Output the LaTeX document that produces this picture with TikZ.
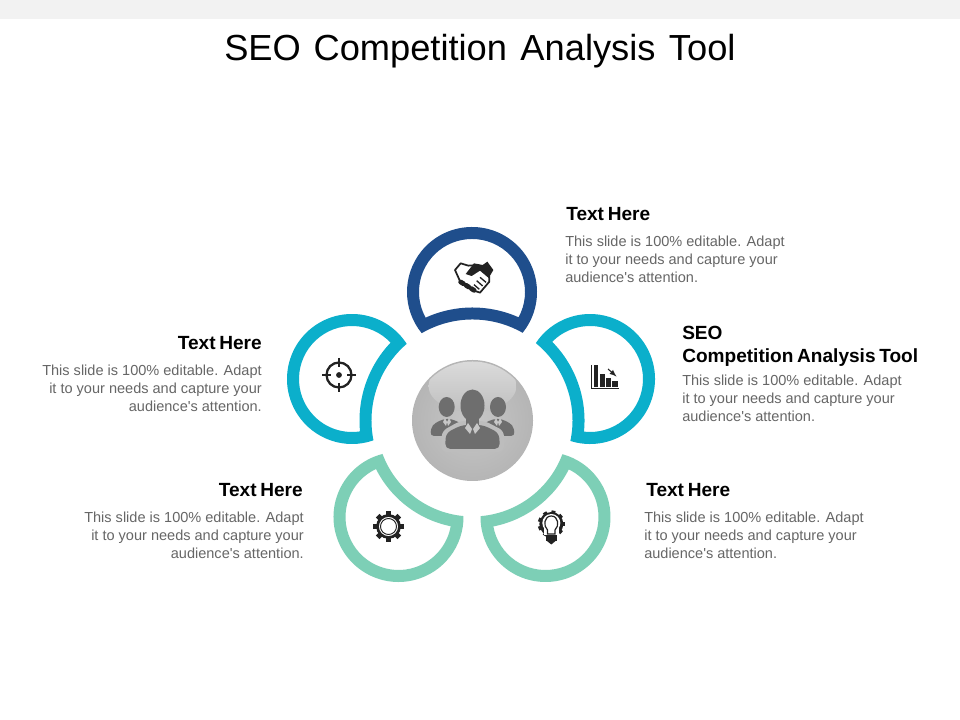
\documentclass[tikz,border=0pt]{standalone}
\usepackage{fontspec}
\setmainfont[Ligatures=TeXOff]{Liberation Sans}
\newfontfamily\headfont[WordSpace=0.7]{Liberation Sans Bold}
\definecolor{navy}{HTML}{1F4E8C}
\definecolor{teal}{HTML}{0BAFCB}
\definecolor{mint}{HTML}{7DCFB6}
\definecolor{bodygrey}{HTML}{666666}
\definecolor{peoplegrey}{HTML}{6E6E6E}
\definecolor{iconblack}{HTML}{222222}
\newcommand{\petal}[5]{%
  \coordinate (#1) at (#3,#4);
  \pgfmathsetmacro\pdx{(#3-472.5)/100}
  \pgfmathsetmacro\pdy{(#4-299.5)/100}
  \pgfmathsetmacro\pang{atan2(\pdy,\pdx)}
  \pgfmathsetmacro\pdist{sqrt(\pdx*\pdx+\pdy*\pdy)}
  \pgfmathsetmacro\rout{#5/100}
  \pgfmathsetmacro\rin{(#5+12)/100}
  \pgfmathsetmacro\aout{acos((\pdist*\pdist+0.65*0.65-\rout*\rout)/(2*\pdist*0.65))}
  \pgfmathsetmacro\bout{acos((\pdist*\pdist+\rout*\rout-0.65*0.65)/(2*\pdist*\rout))}
  \pgfmathsetmacro\ain{acos((\pdist*\pdist+0.53*0.53-\rin*\rin)/(2*\pdist*0.53))}
  \pgfmathsetmacro\bin{acos((\pdist*\pdist+\rin*\rin-0.53*0.53)/(2*\pdist*\rin))}
  \fill[#2,even odd rule]
    ([shift={(\pang+180+\aout:65)}]#1) arc[start angle=\pang+180+\aout,end angle=\pang+540-\aout,radius=65]
      arc[start angle=\pang+\bout,end angle=\pang-\bout,radius=#5] -- cycle
    ([shift={(\pang+180+\ain:53)}]#1) arc[start angle=\pang+180+\ain,end angle=\pang+540-\ain,radius=53]
      arc[start angle=\pang+\bin,end angle=\pang-\bin,radius=#5+12] -- cycle;
}
\newcommand{\blurb}{This slide is 100\% editable. Adapt\\it to your needs and capture your\\audience's attention.}
\begin{document}
\begin{tikzpicture}[x=0.75pt,y=0.75pt,
    headtext/.style={inner sep=0pt,font=\fontsize{14.3}{17.5}\selectfont\headfont,text=black},
    bodytext/.style={inner sep=0pt,font=\fontsize{10.9}{13.3}\selectfont,text=bodygrey},
    iconline/.style={draw=iconblack,line width=1.1pt},
    iconfill/.style={fill=iconblack}]
  \fill[white] (0,0) rectangle (960,720);
  \path[use as bounding box] (0,0) rectangle (960,720);
  \fill[black!5] (0,701) rectangle (960,720);
  \node[anchor=base west,inner sep=0pt,font=\fontsize{27.2}{34}\selectfont] (title) at (224,659) {SEO\hspace{2pt} Competition\hspace{2.5pt} Analysis\hspace{2.5pt} Tool};
  % petals
  \coordinate (hub) at (472.5,299.5);
  \petal{top}{navy}{472}{428}{101}
  \petal{right}{teal}{590}{341}{100}
  \petal{left}{teal}{352}{341}{101}
  \petal{lowleft}{mint}{398.5}{203}{96}
  \petal{lowright}{mint}{545.5}{203}{96}
  % hub
  \shade[inner color=black!22,outer color=black!29] (hub) circle[radius=60.5];
  \begin{scope}
    \clip (hub) circle[radius=59];
    \shade[top color=black!14,bottom color=black!25] (472.5,334) ellipse[x radius=44,y radius=26];
  \end{scope}
  \begin{scope}[peoplegrey]
    \fill (446.7,313) ellipse[x radius=8,y radius=10];
    \fill (498,313) ellipse[x radius=8,y radius=10];
    \fill[rounded corners=3pt] (430,284) -- (432,295) -- (443,301) -- (452,301) -- (462,296) -- (462,284) -- cycle;
    \fill[rounded corners=3pt] (515,284) -- (513,295) -- (502,301) -- (493,301) -- (483,296) -- (483,284) -- cycle;
    \fill[black!26,rounded corners=4pt] (441,268) -- (442,289) -- (460,299) -- (485,299) -- (504,289) -- (504,268) -- cycle;
    \fill (472.5,314.5) ellipse[x radius=12,y radius=16];
    \fill (466,302) rectangle (479,290);
    \fill[rounded corners=4pt] (445,271) -- (446,287) -- (462,295) -- (483,295) -- (499,287) -- (500,271) -- cycle;
    \fill[black!22] (465,292) -- (468,297) -- (472,291) -- (470,286) -- cycle;
    \fill[black!22] (480,292) -- (477,297) -- (473,291) -- (475,286) -- cycle;
    \fill[black!22] (443,298) -- (445,302) -- (447,298) -- (446,294) -- cycle;
    \fill[black!22] (451,298) -- (449,302) -- (447,298) -- (448,294) -- cycle;
    \fill[black!22] (494,298) -- (496,302) -- (498,298) -- (497,294) -- cycle;
    \fill[black!22] (502,298) -- (500,302) -- (498,298) -- (499,294) -- cycle;
  \end{scope}
  % handshake
  \begin{scope}[shift={(400,500)},x=0.25pt,y=-0.25pt]
    \draw[iconline,line width=1.3pt,fill=white,line join=round] (165,150) -- (182,130) -- (205,137) -- (235,135) -- (268,170) -- (268,185) -- (240,218) -- (222,212) -- (182,188) -- cycle;
    \fill[iconfill] (197,162) -- (222,130) -- (248,135) -- (262,125) -- (280,150) -- (266,174) -- (240,152) -- (215,168) -- cycle;
    \draw[iconline,line width=3.6pt,line cap=round,dash pattern=on 2.5pt off 2.2pt] (182,186) -- (224,212);
    \draw[iconline,line width=1pt] (258,187) -- (240,172) (248,198) -- (230,182) (238,208) -- (222,194);
  \end{scope}
  % target
  \coordinate (aim) at (339,345);
  \draw[iconline,line width=1.7pt] (aim) circle[radius=12.5];
  \fill[iconfill] (aim) circle[radius=2.9];
  \draw[iconline,line width=1.7pt] (322,345) -- (331,345) (347,345) -- (356,345) (339,362) -- (339,353) (339,337) -- (339,328);
  % chart
  \draw[iconline] (591.5,355) -- (591.5,331.5) -- (619,331.5);
  \fill[iconfill] (593.5,333) rectangle (598,355);
  \fill[iconfill] (599.7,333) rectangle (604.7,346);
  \fill[iconfill] (605.8,333) rectangle (611,342);
  \fill[iconfill] (612.3,333) rectangle (617.5,339);
  \draw[iconline,-latex,line width=0.8pt] (608,351) -- (616.5,343.5);
  % gear
  \coordinate (cog) at (388.5,193.5);
  \foreach \ang in {0,45,...,315}
    \draw[iconline,line width=3.8pt] ([shift={(\ang:9)}]cog) -- ([shift={(\ang:15.3)}]cog);
  \draw[iconline,fill=white,line width=2pt] (cog) circle[radius=11];
  \draw[iconline,line width=0.7pt] (cog) circle[radius=8];
  % bulb
  \coordinate (bulb) at (551.3,196);
  \foreach \ang in {0,40,80,120,160,200,240,280,320}
    \draw[iconline,line width=3pt] ([shift={(\ang:9)}]bulb) -- ([shift={(\ang:13.5)}]bulb);
  \fill[iconfill] (bulb) circle[radius=12];
  \fill[white] (551.3,197) circle[radius=9];
  \fill[white] (544,185) rectangle (558.5,192);
  \draw[iconline,fill=white,line width=0.9pt] (547.5,186) -- (547.5,190) .. controls (543,194) and (544,204) .. (551.3,204) .. controls (558.5,204) and (559.5,194) .. (555,190) -- (555,186) -- cycle;
  \fill[iconfill] (545.5,185) rectangle (557,179);
  \fill[iconfill] (547,179) -- (555.5,179) -- (551.3,175.5) -- cycle;
  % texts
  \node[headtext,anchor=base west] (head1) at (566,499) {Text Here};
  \node[bodytext,anchor=north west,align=left] (body1) at (565,484) {\blurb};
  \node[headtext,anchor=base west] (head2) at (682,380) {SEO};
  \node[headtext,anchor=base west] (head2b) at (682,357) {Competition Analysis Tool};
  \node[bodytext,anchor=north west,align=left] (body2) at (682,345) {\blurb};
  \node[headtext,anchor=base west] (head3) at (646,223) {Text Here};
  \node[bodytext,anchor=north west,align=left] (body3) at (644,208) {\blurb};
  \node[headtext,anchor=base east] (head4) at (303,223) {Text Here};
  \node[bodytext,anchor=north east,align=right] (body4) at (304,208) {\blurb};
  \node[headtext,anchor=base east] (head5) at (262,370) {Text Here};
  \node[bodytext,anchor=north east,align=right] (body5) at (262,355) {\blurb};
\end{tikzpicture}
\end{document}
